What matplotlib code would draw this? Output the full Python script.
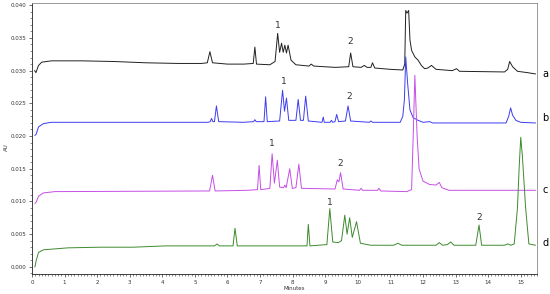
import numpy as np
import matplotlib.pyplot as plt
from matplotlib.ticker import MultipleLocator

# trace a (black) - vertices (minutes, AU)
t_a = [0.08, 0.12, 0.2, 0.3, 0.6, 1.5, 2.5, 3.5, 4.5, 5.2, 5.38, 5.46, 5.54, 6.0, 6.5,
       6.79, 6.84, 6.89, 7.3, 7.46, 7.54, 7.6, 7.66, 7.71, 7.76, 7.81, 7.86, 7.95, 8.1,
       8.5, 8.57, 8.65, 9.3, 9.72, 9.78, 9.85, 10.1, 10.2, 10.28, 10.4, 10.45, 10.52,
       11.0, 11.38, 11.44, 11.47, 11.51, 11.56, 11.6, 11.65, 11.75, 11.85, 11.95, 12.05,
       12.15, 12.26, 12.4, 12.9, 13.03, 13.12, 14.5, 14.6, 14.66, 14.75, 14.9, 15.2, 15.45]
v_a = [0.0300, 0.0297, 0.0308, 0.0313, 0.0315, 0.0315, 0.0314, 0.0312, 0.0311, 0.0311,
       0.0312, 0.0329, 0.0312, 0.0310, 0.0310, 0.0311, 0.0336, 0.0310, 0.0309, 0.0314,
       0.0357, 0.0328, 0.0342, 0.0328, 0.0339, 0.0327, 0.0339, 0.0316, 0.0309, 0.0307,
       0.0310, 0.0307, 0.0305, 0.0306, 0.0327, 0.0306, 0.0305, 0.0308, 0.0305, 0.0305,
       0.0312, 0.0304, 0.0302, 0.0301, 0.0310, 0.0392, 0.0388, 0.0392, 0.0347, 0.0331,
       0.0321, 0.0316, 0.0308, 0.0303, 0.0304, 0.0308, 0.0302, 0.0300, 0.0303, 0.0299,
       0.0298, 0.0302, 0.0314, 0.0306, 0.0299, 0.0297, 0.0295]

# trace b (blue)
t_b = [0.09, 0.13, 0.2, 0.35, 0.6, 5.4, 5.47, 5.51, 5.55, 5.6, 5.66, 5.73, 6.5, 6.8,
       6.84, 6.88, 7.12, 7.17, 7.22, 7.6, 7.69, 7.75, 7.81, 7.88, 8.1, 8.17, 8.24, 8.33,
       8.40, 8.48, 8.9, 8.94, 8.97, 9.15, 9.19, 9.23, 9.3, 9.35, 9.41, 9.62, 9.70, 9.78,
       10.35, 10.4, 10.45, 11.3, 11.38, 11.43, 11.47, 11.53, 11.6, 11.7, 11.85, 12.0,
       12.2, 12.3, 14.55, 14.63, 14.69, 14.75, 14.85, 15.0, 15.45]
v_b = [0.0201, 0.0203, 0.0214, 0.0219, 0.0221, 0.0221, 0.0222, 0.0227, 0.0222, 0.0222,
       0.0246, 0.0222, 0.0221, 0.0222, 0.0225, 0.0222, 0.0222, 0.0260, 0.0222, 0.0223,
       0.0270, 0.0238, 0.0258, 0.0224, 0.0224, 0.0256, 0.0224, 0.0224, 0.0261, 0.0223,
       0.0221, 0.0229, 0.0221, 0.0221, 0.0224, 0.0221, 0.0222, 0.0233, 0.0222, 0.0223,
       0.0246, 0.0223, 0.0221, 0.0223, 0.0221, 0.0221, 0.0230, 0.0256, 0.0321, 0.0280,
       0.0240, 0.0228, 0.0224, 0.0221, 0.0222, 0.0220, 0.0220, 0.0230, 0.0243, 0.0232,
       0.0224, 0.0221, 0.0220]

# trace c (magenta)
t_c = [0.09, 0.13, 0.2, 0.35, 0.7, 5.45, 5.54, 5.62, 6.6, 6.92, 6.97, 7.02, 7.3, 7.37,
       7.44, 7.53, 7.6, 7.72, 7.76, 7.8, 7.91, 7.99, 8.1, 8.19, 8.27, 9.3, 9.37, 9.42,
       9.47, 9.55, 10.05, 10.1, 10.15, 10.6, 10.65, 10.7, 11.5, 11.65, 11.70, 11.75,
       11.82, 11.88, 12.0, 12.2, 12.4, 12.5, 12.58, 12.8, 15.45]
v_c = [0.0097, 0.0099, 0.0108, 0.0113, 0.0115, 0.0116, 0.0140, 0.0116, 0.0117, 0.0118,
       0.0155, 0.0118, 0.0120, 0.0173, 0.0128, 0.0163, 0.0122, 0.0121, 0.0125, 0.0121,
       0.0150, 0.0120, 0.0121, 0.0157, 0.0120, 0.0119, 0.0133, 0.0130, 0.0144, 0.0119,
       0.0117, 0.0120, 0.0117, 0.0117, 0.0120, 0.0116, 0.0115, 0.0118, 0.0200, 0.0293,
       0.0200, 0.0150, 0.0131, 0.0126, 0.0125, 0.0129, 0.0121, 0.0117, 0.0117]

# trace d (green)
t_d = [0.09, 0.13, 0.2, 0.35, 0.6, 1.1, 2.1, 3.1, 4.1, 5.6, 5.68, 5.75, 6.17, 6.23, 6.3,
       8.0, 8.44, 8.48, 8.53, 9.05, 9.14, 9.23, 9.4, 9.5, 9.60, 9.67, 9.75, 9.83, 9.96,
       10.08, 10.4, 11.1, 11.23, 11.35, 12.4, 12.5, 12.6, 12.75, 12.85, 12.95, 13.62,
       13.72, 13.8, 14.5, 14.6, 14.7, 14.8, 14.9, 14.95, 15.0, 15.05, 15.15, 15.25, 15.45]
v_d = [0.0000, 0.0010, 0.0022, 0.0026, 0.0027, 0.0029, 0.0030, 0.0030, 0.0032, 0.0032,
       0.0035, 0.0032, 0.0032, 0.0059, 0.0032, 0.0032, 0.0032, 0.0065, 0.0032, 0.0034,
       0.0089, 0.0038, 0.0037, 0.0040, 0.0079, 0.0050, 0.0075, 0.0045, 0.0069, 0.0036,
       0.0033, 0.0033, 0.0036, 0.0033, 0.0033, 0.0037, 0.0033, 0.0034, 0.0038, 0.0033,
       0.0033, 0.0064, 0.0033, 0.0033, 0.0035, 0.0033, 0.0035, 0.0090, 0.0150, 0.0198,
       0.0170, 0.0090, 0.0035, 0.0033]

trace_names = ["a", "b", "c", "d"]
trace_colors = ["#202020", "#3c3cf0", "#c64ee6", "#3d8a2e"]
trace_end_label = [0.0295, 0.0227, 0.0117, 0.0036]

# peak annotations "1" / "2": (trace, label, time, AU)
peak_traces = ["a", "a", "b", "b", "c", "c", "d", "d"]
peak_labels = ["1", "2", "1", "2", "1", "2", "1", "2"]
peak_t = [7.53, 9.78, 7.73, 9.72, 7.35, 9.47, 9.14, 13.72]
peak_v = [0.0369, 0.0344, 0.0284, 0.0260, 0.0188, 0.0158, 0.0098, 0.0076]

fig = plt.figure(figsize=(5.5, 2.94), dpi=100)
ax = fig.add_axes([0.0582, 0.068, 0.9182, 0.9208])

traces = [(t_a, v_a), (t_b, v_b), (t_c, v_c), (t_d, v_d)]
for (t, v), c in zip(traces, trace_colors):
    ax.plot(t, v, color=c, lw=0.7)

for name, yv in zip(trace_names, trace_end_label):
    ax.text(15.76, yv, name, fontsize=7, color="black", ha="center", va="center",
            clip_on=False)

for lab, t, v in zip(peak_labels, peak_t, peak_v):
    ax.text(t, v, lab, fontsize=6.5, color="#333333", ha="center", va="center")

ax.set_xlim(0, 15.5)
ax.set_ylim(-0.0011, 0.0403)
ax.xaxis.set_major_locator(MultipleLocator(1))
ax.xaxis.set_minor_locator(MultipleLocator(0.1))
ax.yaxis.set_major_locator(MultipleLocator(0.005))
ax.yaxis.set_minor_locator(MultipleLocator(0.001))
ax.yaxis.set_major_formatter(plt.FormatStrFormatter("%.3f"))
ax.tick_params(which="major", length=2.5, width=0.5, labelsize=4, pad=1.5,
               colors="#333333")
ax.tick_params(which="minor", length=1.3, width=0.4, colors="#333333")
for side in ["top", "right"]:
    ax.spines[side].set_color("#8a8a8a")
    ax.spines[side].set_linewidth(0.6)
for side in ["left", "bottom"]:
    ax.spines[side].set_color("#222222")
    ax.spines[side].set_linewidth(0.6)

fig.text(0.0125, 0.50, "AU", fontsize=4, rotation=90, ha="center", va="center",
         color="#333333")
fig.text(0.535, 0.020, "Minutes", fontsize=4, ha="center", va="center",
         color="#333333")

fig.savefig("out.png", dpi=100)
